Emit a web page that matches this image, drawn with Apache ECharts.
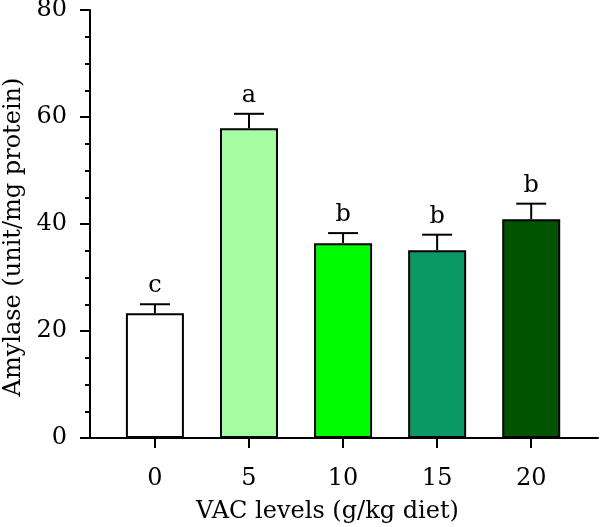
<!DOCTYPE html>
<html>
<head>
<meta charset="utf-8">
<script src="https://cdn.jsdelivr.net/npm/echarts@6/dist/echarts.min.js"></script>
<style>
  html, body { margin: 0; padding: 0; background: #fff; }
  #main { width: 600px; height: 527px; }
</style>
</head>
<body>
<div id="main"></div>
<script>
// chart data
const categories = ['0', '5', '10', '15', '20'];
const amylase = [23.3, 57.9, 36.4, 35.1, 40.9];
const sem = [1.7, 2.7, 1.9, 2.9, 2.9];
const letters = ['c', 'a', 'b', 'b', 'b'];
const barColors = ['#ffffff', '#a6fca0', '#00fa00', '#0a9865', '#005300'];
const catIndex = categories.map((c, i) => i);

const fontFamily = 'DejaVu Serif';
const chart = echarts.init(document.getElementById('main'));

const option = {
  animation: false,
  grid: { left: 90, right: 2, top: 10, bottom: 89, outerBoundsMode: 'none' },
  xAxis: {
    type: 'value',
    min: -0.69,
    max: 4.71,
    splitLine: { show: false },
    axisLine: { onZero: false, lineStyle: { color: '#000', width: 2 } },
    axisTick: { customValues: catIndex, length: 10, lineStyle: { color: '#000', width: 2 } },
    axisLabel: {
      customValues: catIndex,
      formatter: v => categories[v],
      margin: 29,
      color: '#000',
      fontFamily: fontFamily,
      fontSize: 24
    },
    name: 'VAC levels (g/kg diet)',
    nameLocation: 'middle',
    nameGap: 62,
    nameTextStyle: { color: '#000', fontFamily: fontFamily, fontSize: 24, padding: [0, 33, 0, 0] }
  },
  yAxis: {
    type: 'value',
    min: 0,
    max: 80,
    interval: 20,
    splitLine: { show: false },
    axisLine: { onZero: false, lineStyle: { color: '#000', width: 2 } },
    axisTick: { length: 10, lineStyle: { color: '#000', width: 2 } },
    minorTick: { show: true, splitNumber: 4, length: 5, lineStyle: { color: '#000', width: 2 } },
    axisLabel: { margin: 23, color: '#000', fontFamily: fontFamily, fontSize: 24 },
    name: 'Amylase (unit/mg protein)',
    nameLocation: 'middle',
    nameGap: 63,
    nameTextStyle: { color: '#000', fontFamily: fontFamily, fontSize: 24, padding: [0, 26, 0, 0] }
  },
  series: [
    {
      type: 'bar',
      barWidth: 58,
      itemStyle: { borderColor: '#000', borderWidth: 2 },
      data: amylase.map((v, i) => ({ value: [i, v], itemStyle: { color: barColors[i] } }))
    },
    {
      // error bars (upper only) with letters
      type: 'custom',
      z: 5,
      data: amylase.map((v, i) => [i, v, sem[i]]),
      renderItem: function (params, api) {
        const i = api.value(0);
        const top = api.coord([i, api.value(1)]);
        const hi = api.coord([i, api.value(1) + api.value(2)]);
        const half = 15;
        return {
          type: 'group',
          children: [
            { type: 'line', shape: { x1: top[0], y1: top[1], x2: hi[0], y2: hi[1] }, style: { stroke: '#000', lineWidth: 2 } },
            { type: 'line', shape: { x1: hi[0] - half, y1: hi[1], x2: hi[0] + half, y2: hi[1] }, style: { stroke: '#000', lineWidth: 2 } },
            {
              type: 'text',
              x: hi[0],
              y: hi[1] - 6,
              style: {
                text: letters[params.dataIndex],
                fill: '#000',
                fontFamily: fontFamily,
                fontSize: 24,
                align: 'center',
                verticalAlign: 'bottom'
              }
            }
          ]
        };
      }
    }
  ]
};
chart.setOption(option);
</script>
</body>
</html>
